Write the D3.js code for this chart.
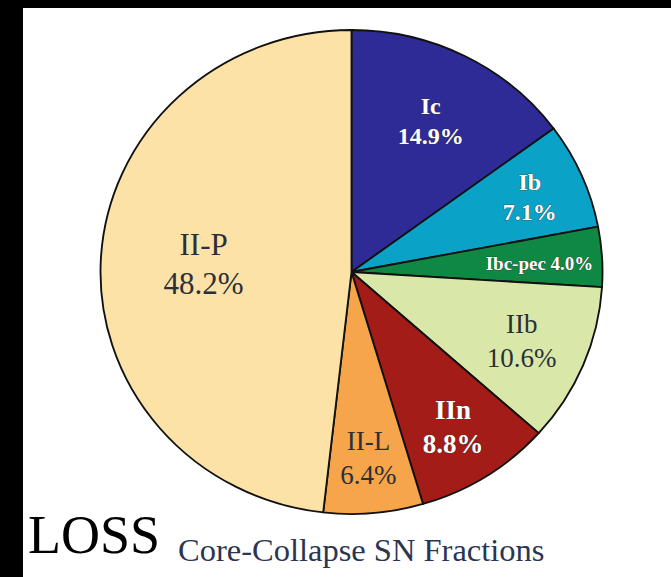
<!DOCTYPE html>
<html>
<head>
<meta charset="utf-8">
<script src="https://cdn.jsdelivr.net/npm/d3@7"></script>
<style>
  body { margin: 0; background: #000; }
  svg { display: block; }
</style>
</head>
<body>
<svg id="chart"></svg>
<script>
// SN type fractions (percent), clockwise from 12 o'clock
const types = ["Ic", "Ib", "Ibc-pec", "IIb", "IIn", "II-L", "II-P"];
const fractions = [14.9, 7.1, 4.0, 10.6, 8.8, 6.4, 48.2];
const colours = ["#2e2a96", "#0aa2c6", "#0e8843", "#d9e8a9", "#a31c18", "#f6a54b", "#fde2a8"];
const whiteText = [true, true, true, false, true, false, false];

const W = 671, H = 577;
const cx = 351.5, cy = 272, ry = 242, stretch = 251 / 242;
const serif = "'Liberation Serif', 'Times New Roman', Times, serif";

const svg = d3.select("#chart").attr("width", W).attr("height", H);

// white page with black frame on top/left
svg.append("rect").attr("x", 23).attr("y", 8).attr("width", W - 23).attr("height", H - 8).attr("fill", "#fff");

const data = types.map((t, i) => ({type: t, value: fractions[i], colour: colours[i], white: whiteText[i]}));

const pie = d3.pie().sort(null).value(d => d.value);
const arc = d3.arc().innerRadius(0).outerRadius(ry);

const g = svg.append("g")
    .attr("transform", "translate(" + cx + "," + cy + ") scale(" + stretch + ",1)");

g.selectAll("path")
    .data(pie(data))
    .join("path")
    .attr("d", arc)
    .attr("fill", d => d.data.colour)
    .attr("stroke", "#111")
    .attr("stroke-width", 1.8)
    .attr("stroke-linejoin", "round");

// label placement: radius as fraction of pie radius, small angle nudge (deg), font size
const labelR = {"Ic": 0.70, "Ib": 0.775, "Ibc-pec": 0.75, "IIb": 0.735, "IIn": 0.755, "II-L": 0.77, "II-P": 0.59};
const labelNudge = {"Ibc-pec": 1};
const labelSize = {"Ic": 24, "Ib": 24, "Ibc-pec": 19, "IIb": 27, "IIn": 27, "II-L": 27, "II-P": 31};

const labels = svg.append("g").attr("font-family", serif);

pie(data).forEach(d => {
    const a = (d.startAngle + d.endAngle) / 2 + (labelNudge[d.data.type] || 0) * Math.PI / 180;
    const r = ry * labelR[d.data.type];
    const x = cx + Math.sin(a) * r * stretch, y = cy - Math.cos(a) * r;
    const fs = labelSize[d.data.type];
    const lines = d.data.type === "Ibc-pec"
        ? [d.data.type + " " + d.data.value.toFixed(1) + "%"]
        : [d.data.type, d.data.value.toFixed(1) + "%"];
    const gap = fs * 1.25;
    lines.forEach((s, i) => {
        const t = labels.append("text")
            .attr("x", x)
            .attr("y", y + (i - (lines.length - 1) / 2) * gap)
            .attr("dy", "0.35em")
            .attr("text-anchor", "middle")
            .attr("font-size", fs)
            .attr("fill", d.data.white ? "#fff" : "#2b3038")
            .attr("font-weight", d.data.white ? "bold" : "normal")
            .text(s);
        if (d.data.white) {
            t.attr("stroke", "#333").attr("stroke-width", 0.7).attr("paint-order", "stroke");
        }
    });
});

svg.append("text")
    .attr("x", 28).attr("y", 553)
    .attr("font-family", serif)
    .attr("font-size", 54)
    .attr("fill", "#000")
    .text("LOSS");

svg.append("text")
    .attr("x", 178).attr("y", 561)
    .attr("font-family", serif)
    .attr("font-size", 32.5)
    .attr("fill", "#2b3550")
    .text("Core-Collapse SN Fractions");
</script>
</body>
</html>
